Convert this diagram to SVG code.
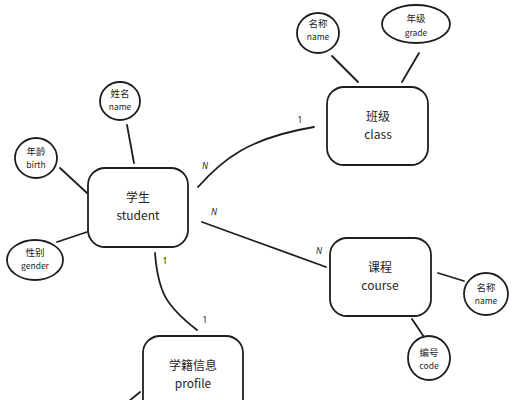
<svg xmlns="http://www.w3.org/2000/svg" width="513" height="400" viewBox="0 0 513 400">
<style>
.box{fill:#fff;stroke:#1e1e1e;stroke-width:1.8}
.attr{fill:#fff;stroke:#1e1e1e;stroke-width:1.8}
.ln{fill:none;stroke:#1e1e1e;stroke-width:1.8;stroke-linecap:round}
.t{font-family:"Noto Sans CJK SC","Noto Sans",sans-serif;fill:#1e1e1e;text-anchor:middle}
.big{font-size:12px}
.sm{font-size:9.5px}
.xs{font-size:8.5px}
.lb{font-family:"Noto Sans",sans-serif;font-size:8.5px;fill:#1e1e1e;text-anchor:middle}
.lbi{font-family:"Noto Sans",sans-serif;font-size:8.5px;font-style:italic;fill:#1e1e1e;text-anchor:middle}
</style>
<rect width="513" height="400" fill="#fff"/>
<g id="connectors">
<path class="ln" d="M127,125 L134,163"/>
<path class="ln" d="M60,168 L87,193"/>
<path class="ln" d="M57,242 L87,232" stroke-width="2.4"/>
<path class="ln" d="M198,187 C222,160 248,138 314,127"/>
<path class="ln" d="M202,222 L326,267"/>
<path class="ln" d="M155,253 C158,292 166,306 197,330"/>
<path class="ln" d="M332,56 L358,82"/>
<path class="ln" d="M419,53 L402,82"/>
<path class="ln" d="M438,273 L464,281"/>
<path class="ln" d="M412,319 L424,337" stroke-width="2.4"/>
<path class="ln" d="M140,392 L128,402"/>
<text class="lbi" x="205" y="169">N</text>
<text class="lb" x="300" y="123">1</text>
<text class="lbi" x="214" y="215">N</text>
<text class="lbi" x="319" y="254">N</text>
<text class="lb" x="165" y="264">1</text>
<text class="lb" x="205" y="323">1</text>
</g>
<g id="student">
<rect class="box" x="88" y="168" width="100" height="79" rx="17"/>
<text class="t big" x="138" y="202">学生</text>
<text class="t big" x="138" y="220">student</text>
</g>
<g id="class">
<rect class="box" x="327" y="87" width="101" height="78" rx="17"/>
<text class="t big" x="378" y="121">班级</text>
<text class="t big" x="378" y="139">class</text>
</g>
<g id="course">
<rect class="box" x="330" y="238" width="101" height="78" rx="17"/>
<text class="t big" x="380" y="272">课程</text>
<text class="t big" x="380" y="290">course</text>
</g>
<g id="profile">
<rect class="box" x="143" y="336" width="100" height="80" rx="17"/>
<text class="t big" x="193" y="370">学籍信息</text>
<text class="t big" x="193" y="388">profile</text>
</g>
<g id="student-name">
<ellipse class="attr" cx="120" cy="101" rx="20" ry="19"/>
<text class="t sm" x="120" y="97">姓名</text>
<text class="t xs" x="120" y="110">name</text>
</g>
<g id="student-birth">
<ellipse class="attr" cx="36" cy="158" rx="21" ry="20"/>
<text class="t sm" x="36" y="155">年龄</text>
<text class="t xs" x="36" y="168">birth</text>
</g>
<g id="student-gender">
<ellipse class="attr" cx="35" cy="260" rx="28" ry="20"/>
<text class="t sm" x="35" y="256">性别</text>
<text class="t xs" x="35" y="269">gender</text>
</g>
<g id="class-name">
<ellipse class="attr" cx="318" cy="33" rx="21" ry="20"/>
<text class="t sm" x="318" y="27">名称</text>
<text class="t xs" x="318" y="40">name</text>
</g>
<g id="class-grade">
<ellipse class="attr" cx="416" cy="24" rx="34" ry="19"/>
<text class="t sm" x="416" y="22">年级</text>
<text class="t xs" x="416" y="36">grade</text>
</g>
<g id="course-name">
<ellipse class="attr" cx="486" cy="294" rx="22" ry="21"/>
<text class="t sm" x="486" y="291">名称</text>
<text class="t xs" x="486" y="304">name</text>
</g>
<g id="course-code">
<ellipse class="attr" cx="429" cy="358" rx="21" ry="22"/>
<text class="t sm" x="429" y="356">编号</text>
<text class="t xs" x="429" y="369">code</text>
</g>
</svg>
